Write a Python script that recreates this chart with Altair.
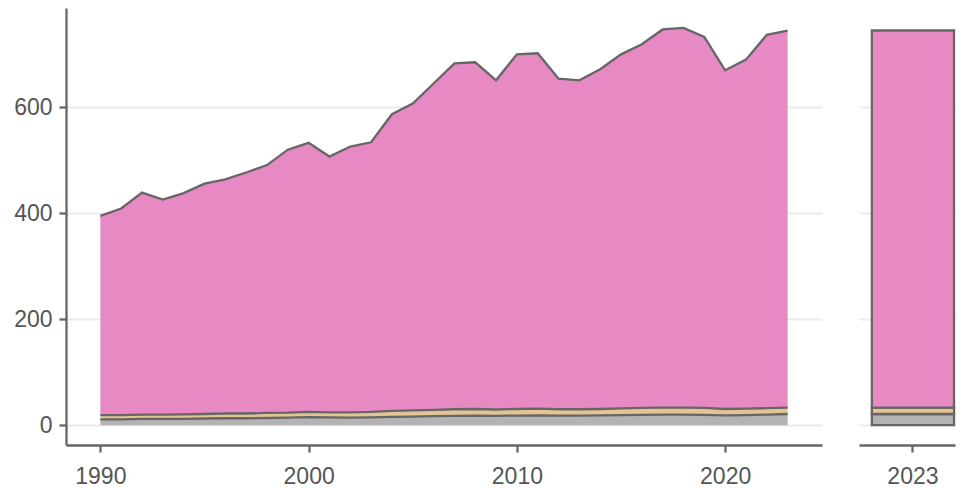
import altair as alt
import pandas as pd

years = list(range(1990, 2024))
series_names = ["Other", "Secondary", "Main"]
series_colors = ["#b3b3b3", "#e5c494", "#e78ac3"]

other = [11, 11, 12, 12, 12, 12.5, 13, 13, 13.5, 14, 15, 14.5, 14, 14.5, 15.5, 16, 17,
         17.5, 18, 17.5, 18, 18.5, 18, 18, 18.5, 19, 19.5, 20, 20, 19.5, 18.5, 19, 20, 21]
secondary = [8, 8, 8, 8, 8.5, 8.5, 9, 9, 9.5, 9.5, 10, 9.5, 10, 10.5, 11.5, 12, 12,
             12.5, 12.5, 12, 12.5, 12.5, 12, 12, 12, 12.5, 13, 13, 13, 13, 12, 12, 12, 12]
main = [376, 390, 419, 406, 417.5, 435, 442, 455, 468, 496.5, 508, 483, 502, 509, 560,
        579, 616, 653, 654.5, 621.5, 669.5, 671, 624, 621, 641.5, 668.5, 686.5, 714,
        717, 700.5, 639.5, 659, 705, 712]

bar_label = "2023"
bar_other = 21
bar_secondary = 12
bar_main = 712

rows = []
for i, yr in enumerate(years):
    for k, (name, vals) in enumerate(zip(series_names, [other, secondary, main])):
        rows.append({"year": yr, "series": name, "order": k, "value": vals[i]})
df = pd.DataFrame(rows)

df_bar = pd.DataFrame({
    "label": [bar_label] * 3,
    "series": series_names,
    "order": [0, 1, 2],
    "value": [bar_other, bar_secondary, bar_main],
})

edge = "#666666"
lw = 2.3
yscale = alt.Scale(domain=[-37.5, 787.5], nice=False, zero=False)
cscale = alt.Scale(domain=series_names, range=series_colors)

x_enc = alt.X("year:Q",
              scale=alt.Scale(domain=[1988.35, 2024.65], nice=False, zero=False),
              axis=alt.Axis(values=[1990, 2000, 2010, 2020], format="d", title=None, grid=False))
y_enc = alt.Y("y1:Q", scale=yscale,
              axis=alt.Axis(values=[0, 200, 400, 600], title=None, grid=True,
                            minExtent=58, maxExtent=58))

left_base = alt.Chart(df).transform_stack(
    stack="value", groupby=["year"], as_=["y0", "y1"],
    sort=[alt.SortField("order", order="ascending")])

area = left_base.mark_area(opacity=1).encode(
    x=x_enc, y=y_enc, y2="y0:Q",
    color=alt.Color("series:N", scale=cscale, legend=None))
line = left_base.mark_line(color=edge, strokeWidth=lw).encode(
    x=x_enc, y=y_enc, detail="series:N")

left = alt.layer(area, line).properties(width=756, height=437)

right = alt.Chart(df_bar).transform_stack(
    stack="value", groupby=["label"], as_=["y0", "y1"],
    sort=[alt.SortField("order", order="ascending")]
).mark_bar(stroke=edge, strokeWidth=lw).encode(
    x=alt.X("label:N",
            scale=alt.Scale(paddingInner=0.144, paddingOuter=0.072, align=0.93),
            axis=alt.Axis(title=None, labelAngle=0)),
    y=alt.Y("y1:Q", scale=yscale,
            axis=alt.Axis(values=[0, 200, 400, 600], labels=False, ticks=False,
                          domain=False, title=None, grid=True, minExtent=0, maxExtent=0)),
    y2="y0:Q",
    color=alt.Color("series:N", scale=cscale, legend=None),
).properties(width=96, height=437)

chart = alt.hconcat(left, right, spacing=37).properties(
    padding={"left": 0, "top": 0, "right": 0, "bottom": 0}
).configure_view(stroke=None).configure_axis(
    domainColor=edge, domainWidth=lw, tickColor=edge, tickWidth=lw, tickSize=7,
    labelColor="#555555", labelFont="Liberation Sans", labelFontSize=23,
    gridColor="#ebebeb", gridWidth=2,
).configure_axisX(labelPadding=13).configure_axisY(labelPadding=7)

chart.save("out.html", embed_options={"renderer": "svg", "actions": False})
